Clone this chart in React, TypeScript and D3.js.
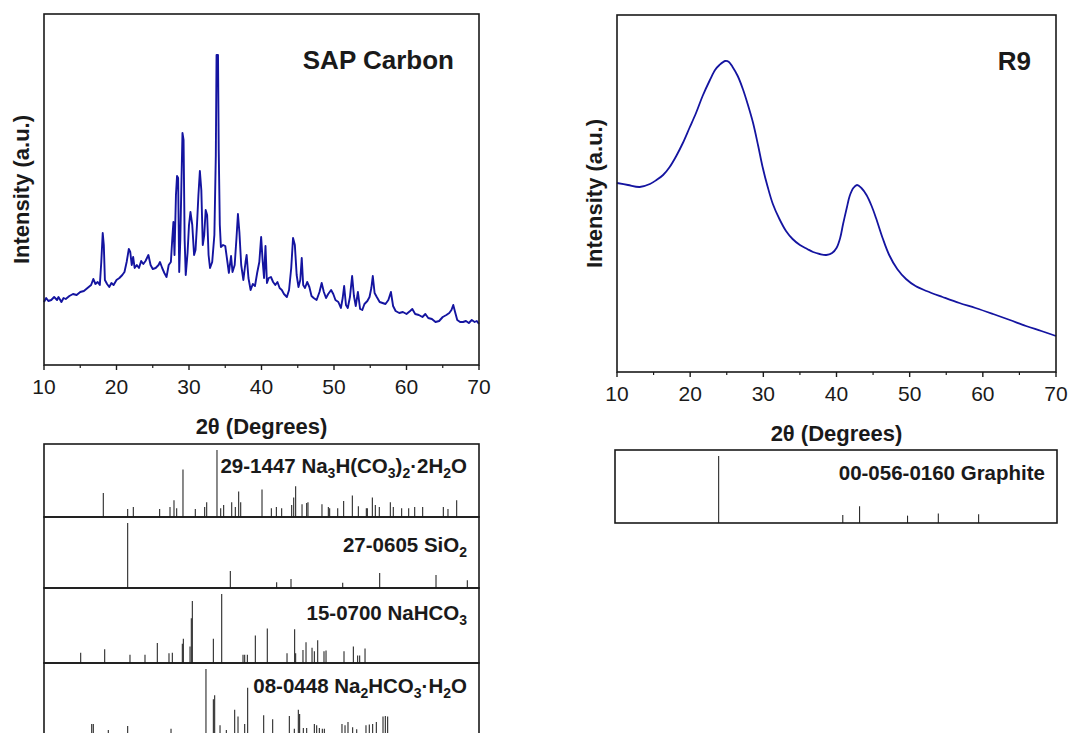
import React from 'react';
import * as d3 from 'd3';

// SAP Carbon pattern (2theta, counts a.u.)
const sapTheta = [
  10.0, 10.3, 10.6, 11.0, 11.4, 11.8, 12.0, 12.4, 12.7, 13.0, 13.5, 14.0, 14.5, 15.0, 15.5, 16.0, 16.5, 16.8, 17.1, 17.4,
  17.7, 17.9, 18.1, 18.25, 18.4, 18.7, 19.0, 19.3, 19.6, 20.0, 20.4, 20.8, 21.1, 21.4, 21.7, 21.9, 22.1, 22.3, 22.5, 22.8,
  23.1, 23.4, 23.7, 24.0, 24.4, 24.7, 25.0, 25.4, 25.8, 26.0, 26.3, 26.6, 26.9, 27.2, 27.5, 27.7, 27.85, 28.0, 28.2, 28.35,
  28.5, 28.65, 28.8, 28.95, 29.1, 29.25, 29.4, 29.55, 29.8, 30.0, 30.2, 30.45, 30.7, 30.9, 31.1, 31.3, 31.5, 31.7, 31.9, 32.1,
  32.3, 32.5, 32.7, 32.9, 33.2, 33.5, 33.7, 33.8, 34.0, 34.1, 34.25, 34.4, 34.7, 35.0, 35.3, 35.5, 35.8, 36.0, 36.3, 36.55,
  36.75, 36.95, 37.2, 37.5, 37.8, 37.95, 38.2, 38.5, 38.8, 39.1, 39.4, 39.7, 39.95, 40.15, 40.35, 40.55, 40.75, 41.0, 41.3, 41.6,
  41.9, 42.2, 42.5, 42.8, 43.1, 43.5, 43.8, 44.1, 44.35, 44.6, 44.85, 45.1, 45.35, 45.55, 45.75, 46.0, 46.3, 46.6, 46.9, 47.2,
  47.6, 48.0, 48.3, 48.6, 48.9, 49.2, 49.6, 49.9, 50.2, 50.6, 50.95, 51.2, 51.4, 51.65, 51.9, 52.2, 52.5, 52.75, 53.0, 53.3,
  53.6, 53.9, 54.2, 54.6, 54.9, 55.15, 55.35, 55.6, 55.9, 56.3, 56.7, 57.1, 57.5, 57.85, 58.15, 58.5, 59.0, 59.5, 60.0, 60.5,
  60.8, 61.2, 61.7, 62.2, 62.6, 63.0, 63.5, 64.0, 64.5, 65.0, 65.5, 65.9, 66.2, 66.45, 66.7, 67.0, 67.4, 67.8, 68.2, 68.6,
  69.0, 69.4, 69.7, 70.0
];
const sapCounts = [
  63, 67, 64, 65, 68, 65, 68, 63, 67, 66, 69, 71, 70, 73, 74, 77, 80, 86, 81, 83,
  80, 103, 132, 120, 85, 81, 78, 82, 80, 85, 87, 90, 93, 103, 116, 113, 100, 108, 97, 100,
  97, 104, 101, 104, 110, 100, 96, 97, 100, 103, 97, 92, 88, 100, 103, 127, 143, 110, 170, 189,
  187, 93, 125, 180, 232, 225, 125, 90, 112, 140, 153, 140, 110, 115, 140, 170, 194, 175, 120, 130,
  155, 150, 110, 97, 103, 130, 210, 310, 310, 215, 140, 118, 120, 119, 103, 92, 109, 93, 100, 127,
  151, 133, 100, 85, 103, 110, 87, 75, 81, 79, 92, 103, 128, 105, 87, 119, 82, 87, 88, 83,
  80, 83, 77, 75, 71, 68, 75, 97, 127, 120, 90, 78, 85, 107, 80, 77, 83, 78, 69, 67,
  65, 73, 82, 73, 67, 71, 75, 71, 65, 63, 57, 67, 79, 60, 57, 68, 89, 69, 59, 73,
  56, 55, 61, 64, 68, 77, 89, 72, 68, 63, 62, 61, 65, 73, 59, 54, 52, 53, 51, 54,
  56, 51, 50, 48, 51, 47, 46, 43, 44, 48, 50, 52, 55, 60, 53, 45, 43, 43, 44, 42,
  45, 43, 44, 41
];

// R9 pattern
const r9Theta = [
  10, 11.5, 13.1, 14.5, 15.4, 16.3, 17.2, 18.1, 19.0, 19.9, 20.8, 21.7, 22.7, 23.4, 24.0, 24.8, 25.3, 25.8, 26.5, 27.2,
  27.9, 28.6, 29.3, 29.9, 30.6, 31.3, 32.2, 33.1, 34.0, 35.0, 36.0, 36.8, 37.7, 38.6, 39.4, 40.0, 40.5, 40.9, 41.4, 41.8,
  42.3, 42.8, 43.4, 44.1, 44.8, 45.4, 46.3, 47.2, 48.3, 49.5, 50.8, 52.3, 54.5, 56.8, 59.0, 61.4, 63.7, 65.9, 68.0, 70.0
];
const r9Counts = [
  189, 187, 185, 188, 192, 197, 205, 216, 229, 244, 259, 276, 292, 302, 307, 311, 310, 305, 296, 283,
  267, 249, 226, 205, 185, 168, 153, 141, 133, 127, 123, 120, 118, 117, 119, 124, 134, 148, 164, 176,
  184, 187, 184, 177, 166, 154, 134, 117, 103, 93, 86, 81, 75, 69, 64, 58, 52, 46, 41, 36
];

// reference cards: [2theta, relative intensity]
const card291447 = [
  [18.18, 36], [21.54, 12], [22.32, 15], [25.95, 12], [27.38, 15], [27.93, 25], [28.3, 13], [29.17, 71],
  [30.87, 12], [32.16, 15], [32.44, 22], [33.86, 100], [34.37, 13], [34.78, 18], [35.89, 22], [36.39, 15],
  [36.85, 38], [37.13, 22], [40.07, 41], [41.36, 13], [42.05, 15], [42.78, 13], [44.16, 18], [44.44, 29],
  [44.71, 46], [45.59, 19], [46.23, 21], [46.41, 22], [48.34, 19], [49.22, 15], [49.4, 13], [50.51, 13],
  [51.33, 24], [52.53, 32], [53.36, 16], [54.46, 13], [54.6, 13], [55.29, 29], [55.7, 18], [56.25, 15],
  [57.77, 22], [58.18, 15], [59.33, 13], [60.3, 13], [61.13, 15], [62.23, 15], [65.08, 15], [65.72, 12],
  [66.92, 25]
];
const card270605 = [
  [21.54, 100], [35.7, 26], [42.09, 9], [44.07, 14], [51.2, 8], [56.3, 23], [64.07, 20], [68.39, 12]
];
const card150700 = [
  [15.06, 15], [18.37, 20], [21.86, 12], [23.93, 12], [25.63, 29], [27.24, 14], [27.7, 15], [29.08, 28],
  [29.22, 35], [30.14, 24], [30.32, 65], [30.46, 90], [33.36, 35], [34.51, 100], [37.45, 12], [37.68, 12],
  [38.05, 12], [39.15, 40], [40.8, 50], [43.52, 14], [44.57, 49], [44.71, 14], [45.72, 19], [46.14, 30],
  [46.97, 22], [47.29, 17], [47.75, 33], [48.62, 17], [48.9, 18], [51.38, 17], [52.67, 24], [53.26, 11],
  [53.54, 11], [54.28, 21]
];
const card080448 = [
  [16.58, 18], [16.8, 18], [18.87, 9], [21.54, 15], [27.52, 11], [32.34, 100], [33.36, 55], [33.54, 61],
  [34.28, 16], [35.15, 9], [36.3, 39], [36.76, 29], [37.68, 18], [38.09, 72], [40.3, 31], [41.54, 25],
  [43.84, 30], [44.53, 11], [45.08, 39], [45.26, 33], [45.77, 12], [46.23, 12], [47.29, 18], [47.61, 16],
  [47.98, 12], [48.39, 11], [48.67, 11], [51.1, 18], [51.52, 16], [51.93, 21], [52.57, 13], [53.13, 10],
  [54.41, 16], [54.87, 17], [55.33, 18], [55.84, 21], [56.76, 29], [57.08, 30], [57.4, 29]
];
const cardGraphite = [
  [24.07, 100], [40.92, 12], [43.2, 25], [49.71, 11], [53.89, 14], [59.36, 13]
];

// card names, split into [text, subscript?] runs
const name291447: [string, boolean][] = [
  ['29-1447 Na', false], ['3', true], ['H(CO', false], ['3', true], [')', false], ['2', true],
  ['·2H', false], ['2', true], ['O', false]
];
const name270605: [string, boolean][] = [['27-0605 SiO', false], ['2', true]];
const name150700: [string, boolean][] = [['15-0700 NaHCO', false], ['3', true]];
const name080448: [string, boolean][] = [
  ['08-0448 Na', false], ['2', true], ['HCO', false], ['3', true], ['·H', false], ['2', true], ['O', false]
];
const nameGraphite: [string, boolean][] = [['00-056-0160 Graphite', false]];

const majorTicks = [10, 20, 30, 40, 50, 60, 70];
const minorTicks = [15, 25, 35, 45, 55, 65];

const FONT = "'Liberation Sans', Arial, Helvetica, sans-serif";
const INK = '#1a1a1a';
const TRACE = '#1414a0';

type Frame = {x0: number; x1: number; y0: number; y1: number};

const XrdPlot = ({f, theta, counts, maxCount, title, smooth}: {
  f: Frame; theta: number[]; counts: number[]; maxCount: number; title: string; smooth?: boolean
}) => {
  const x = d3.scaleLinear().domain([10, 70]).range([f.x0, f.x1]);
  const y = d3.scaleLinear().domain([0, maxCount]).range([f.y1, f.y0]);
  const pts = theta.map((t, i) => [t, counts[i]] as [number, number]);
  const path = d3.line<[number, number]>()
    .x(d => x(d[0]))
    .y(d => y(d[1]))
    .curve(smooth ? d3.curveCatmullRom.alpha(0.5) : d3.curveLinear)(pts);
  const cx = (f.x0 + f.x1) / 2;
  const cy = (f.y0 + f.y1) / 2;
  return (
    <g fontFamily={FONT} fill={INK}>
      <path d={path || ''} fill="none" stroke={TRACE} strokeWidth={smooth ? 1.8 : 1.9} strokeLinejoin="round"/>
      <rect x={f.x0} y={f.y0} width={f.x1 - f.x0} height={f.y1 - f.y0} fill="none" stroke={INK} strokeWidth={1.6}/>
      {majorTicks.map(t => (
        <g key={t}>
          <line x1={x(t)} x2={x(t)} y1={f.y1} y2={f.y1 + 5} stroke={INK} strokeWidth={1.4}/>
          <text x={x(t)} y={f.y1 + 29} textAnchor="middle" fontSize={21}>{t}</text>
        </g>
      ))}
      {minorTicks.map(t => (
        <line key={t} x1={x(t)} x2={x(t)} y1={f.y1} y2={f.y1 + 3} stroke={INK} strokeWidth={1.2}/>
      ))}
      <text x={cx} y={f.y1 + 69} textAnchor="middle" fontSize={22} fontWeight="bold">2θ (Degrees)</text>
      <text transform={`translate(${f.x0 - 15},${cy}) rotate(-90)`} textAnchor="middle" fontSize={22} fontWeight="bold">
        Intensity (a.u.)
      </text>
      <text x={f.x1 - 25} y={f.y0 + 55} textAnchor="end" fontSize={26} fontWeight="bold">{title}</text>
    </g>
  );
};

const StickPanel = ({x0, x1, y0, y1, sticks, name, labelDy}: {
  x0: number; x1: number; y0: number; y1: number; sticks: number[][]; name: [string, boolean][]; labelDy: number
}) => {
  const x = d3.scaleLinear().domain([10, 70]).range([x0, x1]);
  const h = d3.scaleLinear().domain([0, 100]).range([y1, y0 + 6]);
  return (
    <g>
      {sticks.map((s, i) => (
        <line key={i} x1={x(s[0])} x2={x(s[0])} y1={y1} y2={h(s[1])} stroke="#2a2a2a" strokeWidth={1.1}/>
      ))}
      <rect x={x0} y={y0} width={x1 - x0} height={y1 - y0} fill="none" stroke={INK} strokeWidth={1.6}/>
      <text x={x1 - 12} y={y0 + labelDy} textAnchor="end" fontFamily={FONT} fontSize={20.5} fontWeight="bold" fill={INK}>
        {name.map(([txt, sub], i) => {
          const prevSub = i > 0 && name[i - 1][1];
          const dy = sub ? 5 : prevSub ? -5 : 0;
          return (
            <tspan key={i} dy={dy} fontSize={sub ? 14 : undefined}>{txt}</tspan>
          );
        })}
      </text>
    </g>
  );
};

export default function App() {
  const left: Frame = {x0: 44, x1: 479, y0: 14, y1: 365};
  const right: Frame = {x0: 617, x1: 1056, y0: 15, y1: 372};
  return (
    <svg width={1070} height={733} style={{position: 'absolute', left: 0, top: 0, background: '#fff'}}>
      <XrdPlot f={left} theta={sapTheta} counts={sapCounts} maxCount={351} title="SAP Carbon"/>
      <XrdPlot f={right} theta={r9Theta} counts={r9Counts} maxCount={357} title="R9" smooth/>

      <StickPanel x0={44} x1={479} y0={444} y1={517} sticks={card291447} name={name291447} labelDy={29}/>
      <StickPanel x0={44} x1={479} y0={517} y1={588} sticks={card270605} name={name270605} labelDy={35}/>
      <StickPanel x0={44} x1={479} y0={588} y1={663} sticks={card150700} name={name150700} labelDy={32}/>
      <StickPanel x0={44} x1={479} y0={663} y1={736} sticks={card080448} name={name080448} labelDy={30}/>

      <StickPanel x0={615} x1={1057} y0={450} y1={523} sticks={cardGraphite} name={nameGraphite} labelDy={30}/>
    </svg>
  );
}
